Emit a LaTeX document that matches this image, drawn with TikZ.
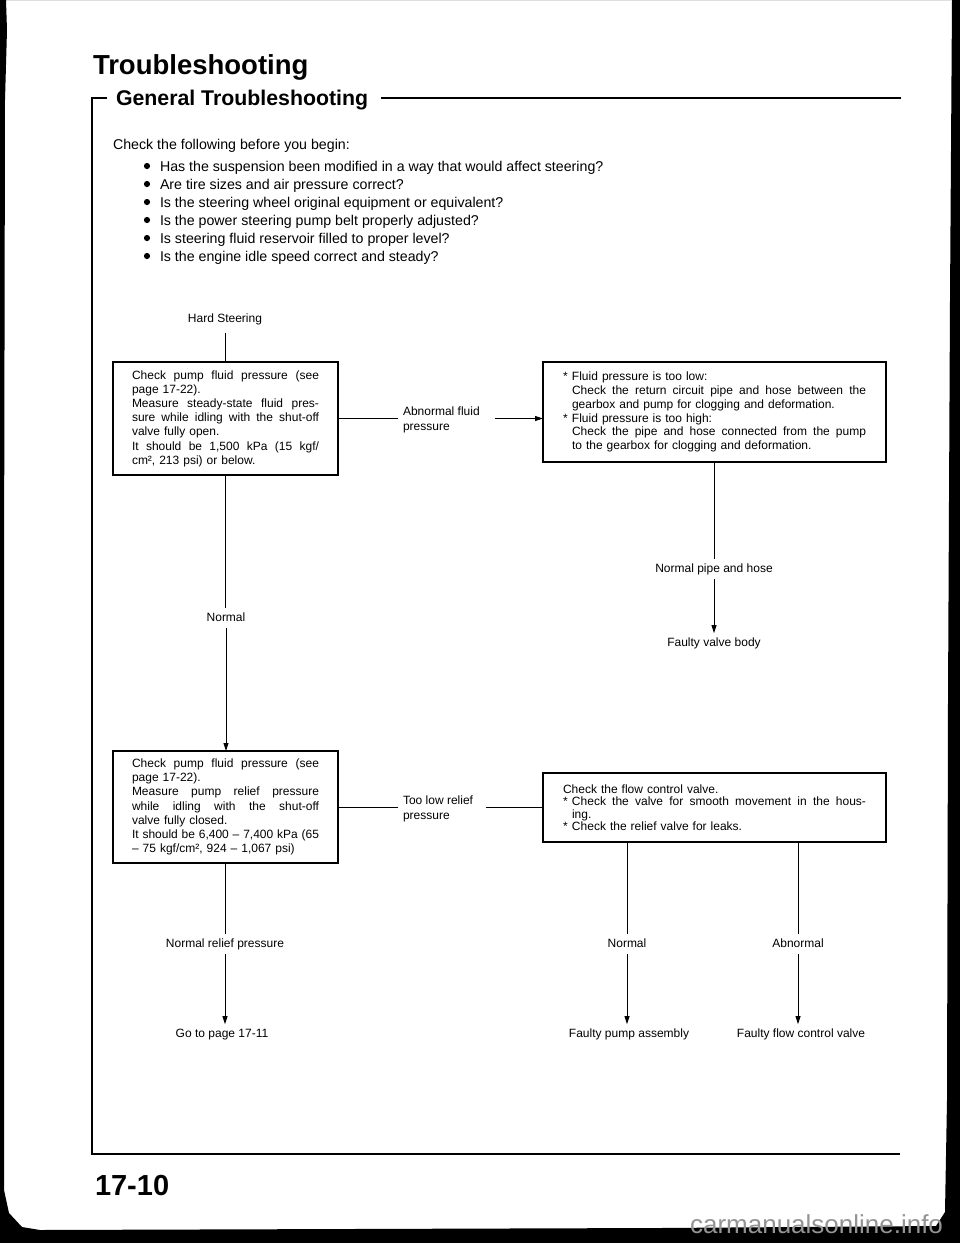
\documentclass[tikz,border=0pt]{standalone}
\usepackage{fontspec}
\setmainfont{Liberation Sans}
\newfontfamily\lblfont{Liberation Sans}
\usetikzlibrary{arrows.meta}
\newcommand{\jl}[2]{\makebox[#1][s]{\spaceskip=0.25em plus 1fil minus 0.05em\relax #2}}
\begin{document}
\begin{tikzpicture}[x=1pt,y=-1pt,
  every node/.style={inner sep=0pt, outer sep=0pt},
  flowbox/.style={draw, line width=1.1pt, anchor=north west, inner xsep=19pt, inner ysep=0pt, align=left},
  boxtxt/.style={font=\lblfont\fontsize{12}{#1}\selectfont},
  lbl/.style={font=\lblfont\fontsize{12}{13}\selectfont, inner xsep=2pt, inner ysep=4.5pt, text height=8.5pt, text depth=2.3pt},
  sidelbl/.style={font=\lblfont\fontsize{12}{15.5}\selectfont, align=left, anchor=west, inner xsep=5pt, inner ysep=2pt},
  conn/.style={line width=0.9pt},
  arr/.style={conn, -{Triangle[length=8pt,width=5pt]}},
  frame/.style={line width=2pt},
  bul/.style={anchor=base west, font=\fontsize{14.2}{16}\selectfont},
]
\useasboundingbox (0,0) rectangle (960,1243);
% scan border
\fill[black, even odd rule] (0,0) rectangle (960,1243)
  (6,0) -- (952,0) -- (950,300) -- (948,700) -- (947,1100) -- (945,1212)
  -- (936,1226) -- (660,1228) -- (40,1230) -- (22,1227) -- (9,1213) -- (4,1190)
  -- (4,600) -- (5,100) -- (7,30) -- cycle;

% headings
\node[anchor=base west, font=\bfseries\fontsize{27.5}{30}\selectfont] (title) at (93,74) {Troubleshooting};
\node[anchor=base west, font=\bfseries\fontsize{21.3}{24}\selectfont] (sub) at (116,105) {General Troubleshooting};
\draw[frame] (107,98) -- (92,98) -- (92,1154) -- (900,1154);
\draw[frame] (381,98) -- (901,98);

% intro
\node[bul] (intro) at (113,149) {Check the following before you begin:};
\foreach \t [count=\i from 0] in {Has the suspension been modified in a way that would affect steering?,
  Are tire sizes and air pressure correct?,
  Is the steering wheel original equipment or equivalent?,
  Is the power steering pump belt properly adjusted?,
  Is steering fluid reservoir filled to proper level?,
  Is the engine idle speed correct and steady?}{
  \node[bul] (b\i) at (160,171+18*\i) {\t};
  \fill (147,166+18*\i) circle (3.1pt);
}

% boxes
\node[flowbox, boxtxt=14.2, text width=187pt, minimum height=113pt] (box1) at (113,362) {%
\jl{187pt}{Check pump fluid pressure (see}\\
page 17-22).\\
\jl{187pt}{Measure steady-state fluid pres-}\\
\jl{187pt}{sure while idling with the shut-off}\\
valve fully open.\\
\jl{187pt}{It should be 1,500 kPa (15 kgf/}\\
cm², 213 psi) or below.};

\node[flowbox, boxtxt=13.8, inner xsep=20pt, text width=303pt, minimum height=100pt] (box2) at (543,362) {%
\makebox[9pt][l]{*}Fluid pressure is too low:\\
\hspace*{9pt}\jl{294pt}{Check the return circuit pipe and hose between the}\\
\hspace*{9pt}gearbox and pump for clogging and deformation.\\
\makebox[9pt][l]{*}Fluid pressure is too high:\\
\hspace*{9pt}\jl{294pt}{Check the pipe and hose connected from the pump}\\
\hspace*{9pt}to the gearbox for clogging and deformation.};

\node[flowbox, boxtxt=14.2, text width=187pt, minimum height=112pt] (box3) at (113,751) {%
\jl{187pt}{Check pump fluid pressure (see}\\
page 17-22).\\
\jl{187pt}{Measure pump relief pressure}\\
\jl{187pt}{while idling with the shut-off}\\
valve fully closed.\\
\jl{187pt}{It should be 6,400 – 7,400 kPa (65}\\
– 75 kgf/cm², 924 – 1,067 psi)};

\node[flowbox, boxtxt=12.5, inner xsep=20pt, text width=303pt, minimum height=69pt] (box4) at (543,773) {%
Check the flow control valve.\\
\makebox[9pt][l]{*}\jl{294pt}{Check the valve for smooth movement in the hous-}\\
\hspace*{9pt}ing.\\
\makebox[9pt][l]{*}Check the relief valve for leaks.};

% labels
\node[lbl] (hard) at (225,319) {Hard Steering};
\node[sidelbl] (abn) at (398,420) {Abnormal fluid\\pressure};
\node[lbl] (npipe) at (714,569) {Normal pipe and hose};
\node[lbl] (fvb) at (714,643) {Faulty valve body};
\node[lbl] (norm1) at (226,618) {Normal};
\node[sidelbl] (toolow) at (398,809) {Too low relief\\pressure};
\node[lbl] (nrp) at (225,944) {Normal relief pressure};
\node[lbl] (goto) at (222,1034) {Go to page 17-11};
\node[lbl] (norm2) at (627,944) {Normal};
\node[lbl] (abn2) at (798,944) {Abnormal};
\node[lbl] (fpa) at (629,1034) {Faulty pump assembly};
\node[lbl] (ffcv) at (801,1034) {Faulty flow control valve};

% connectors
\draw[conn, shorten <=4pt] (hard.south) -- (hard.south |- box1.north);
\draw[conn] (box1.south) -- (box1.south |- norm1.north);
\draw[arr] (norm1.south) -- (norm1.south |- box3.north);
\draw[conn] (box1.east) -- (box1.east -| abn.west);
\draw[arr] ([xshift=10pt]abn.east |- box1.east) -- (box1.east -| box2.west);
\draw[conn] (box2.south) -- (box2.south |- npipe.north);
\draw[arr] (npipe.south) -- (npipe.south |- fvb.north);
\draw[conn] (box3.east) -- (box3.east -| toolow.west);
\draw[conn] ([xshift=8pt]toolow.east |- box3.east) -- (box3.east -| box4.west);
\draw[conn] (box3.south) -- (box3.south |- nrp.north);
\draw[arr] (nrp.south) -- (nrp.south |- goto.north);
\draw[conn] (norm2.north |- box4.south) -- (norm2.north);
\draw[arr] (norm2.south) -- (norm2.south |- fpa.north);
\draw[conn] (abn2.north |- box4.south) -- (abn2.north);
\draw[arr] (abn2.south) -- (abn2.south |- ffcv.north);

% page number and watermark
\node[anchor=base west, font=\bfseries\fontsize{29}{32}\selectfont] (pagenum) at (95,1195) {17-10};
\node[anchor=base east, text=black!42, font=\fontsize{26}{28}\selectfont] (wm) at (943,1233) {carmanualsonline.info};
\end{tikzpicture}
\end{document}
